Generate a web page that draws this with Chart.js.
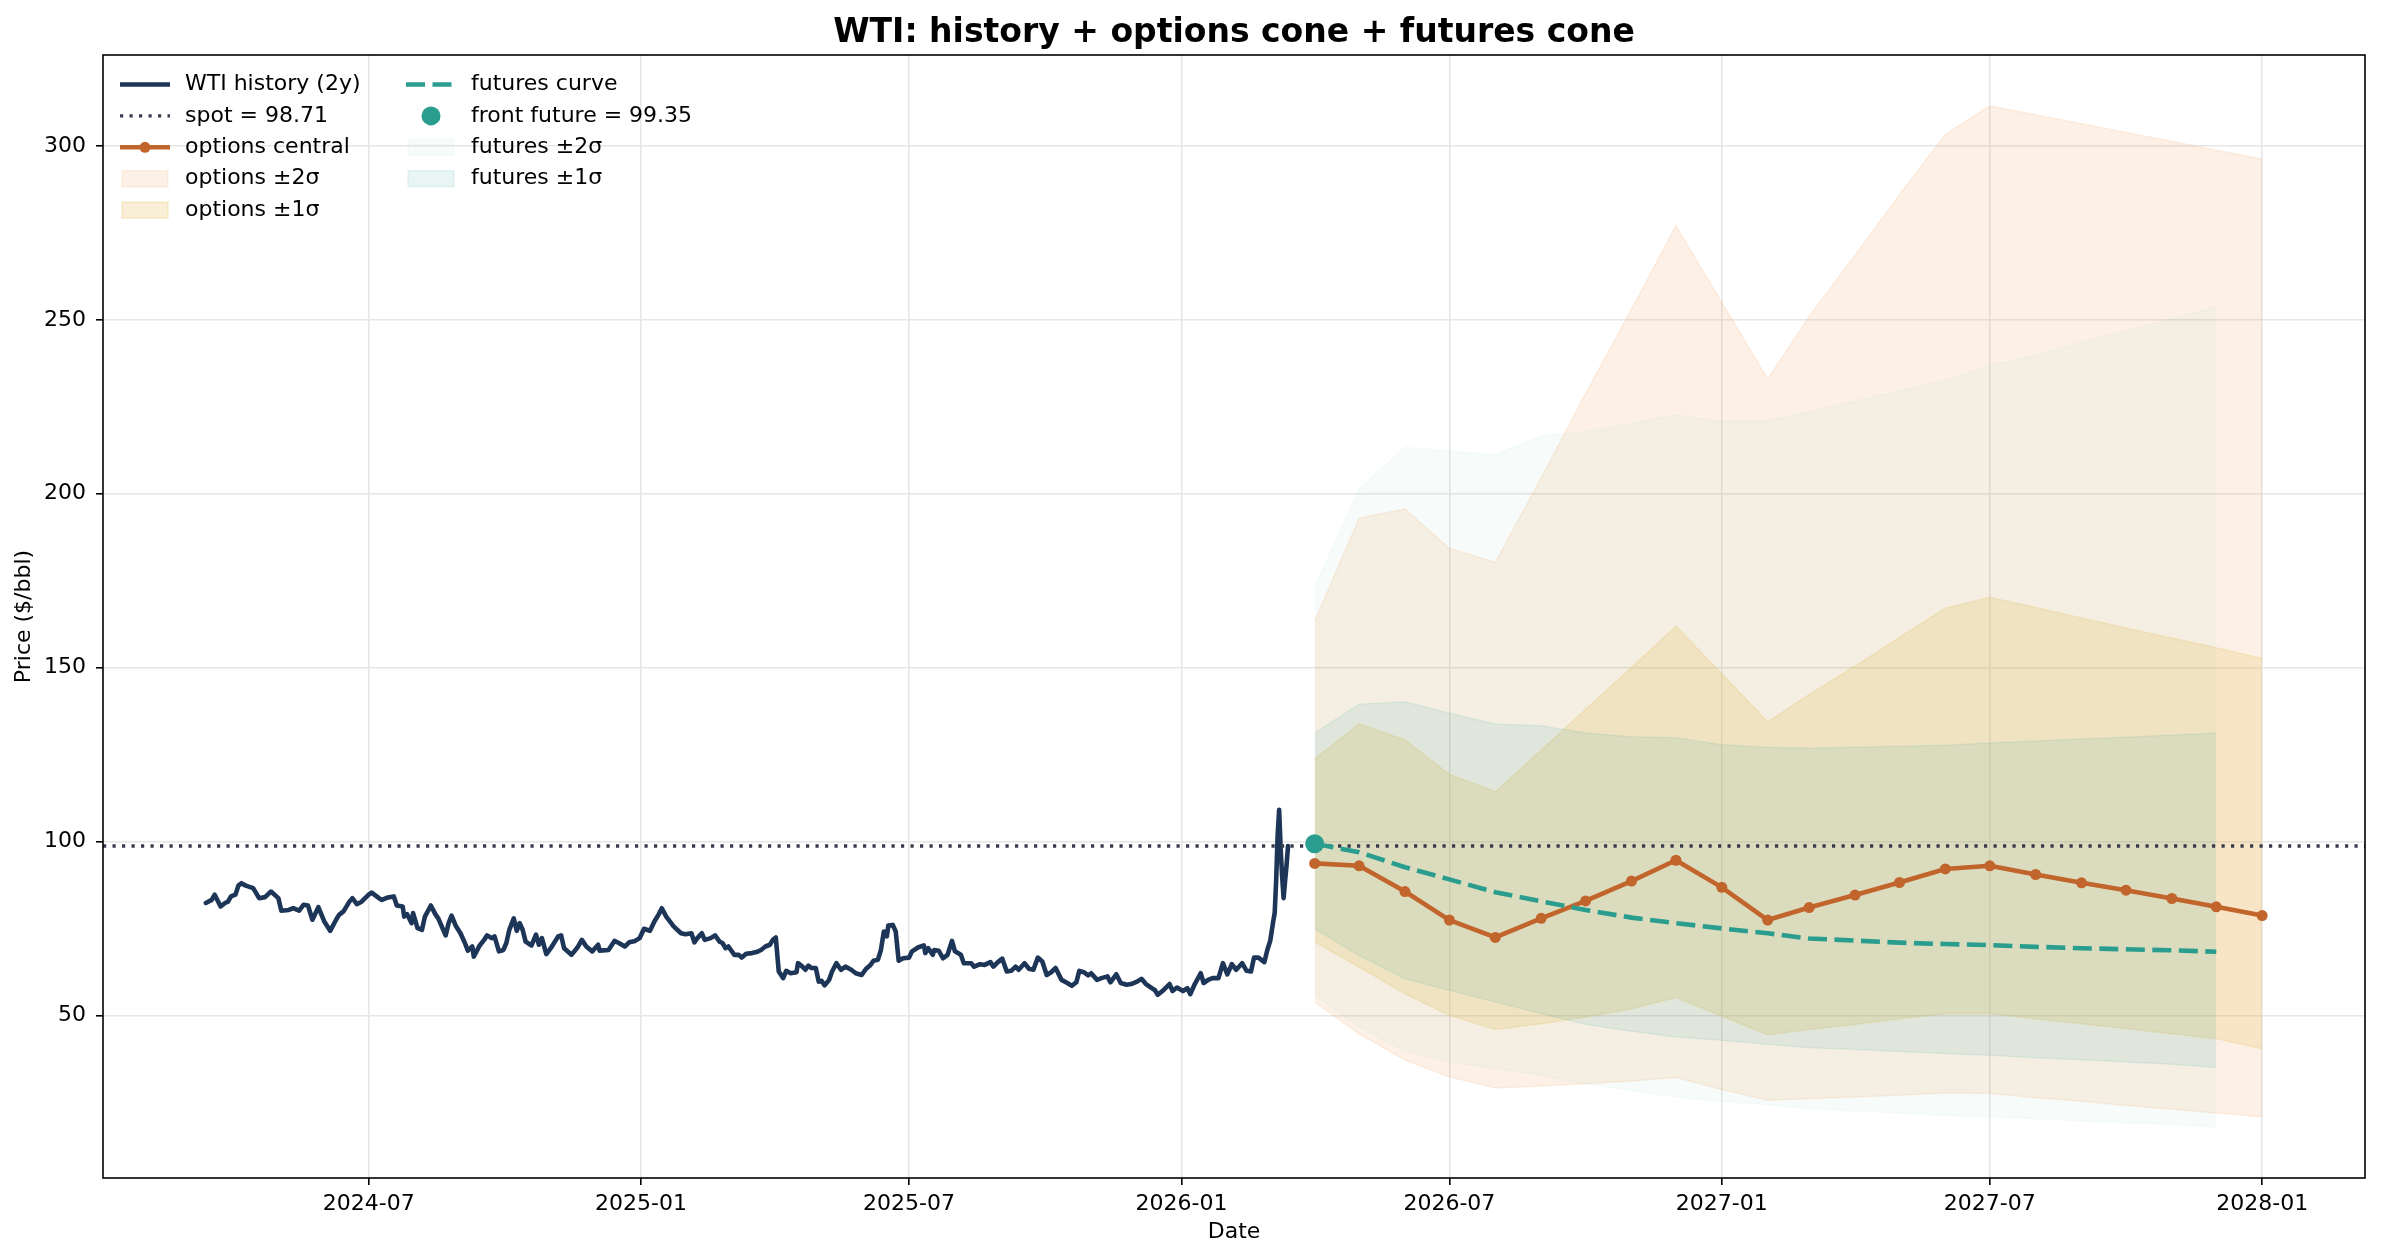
<!DOCTYPE html>
<html>
<head>
<meta charset="utf-8">
<script src="https://cdn.jsdelivr.net/npm/chart.js@4.4.1/dist/chart.umd.min.js"></script>
<style>
  html, body { margin: 0; padding: 0; background: #fff; }
  canvas { display: block; }
</style>
</head>
<body>
<canvas id="wtiChart" width="2382" height="1259" style="width:2382px;height:1259px"></canvas>
<script>
// Historia WTI: dias desde histStart y precio ($/bbl)
const histStart = '2024-03-13';
const histDay = [
    0, 4, 6, 10, 13, 15, 17, 20, 22, 24, 27, 32, 36, 40, 44, 49, 51, 56, 59, 63,
    66, 69, 72, 76, 80, 84, 88, 90, 93, 97, 99, 102, 105, 110, 112, 117, 119, 123, 127, 129,
    133, 134, 136, 139, 140, 143, 146, 148, 152, 155, 157, 162, 164, 166, 169, 172, 175, 177, 180, 181,
    185, 188, 190, 193, 195, 198, 201, 203, 205, 208, 210, 212, 214, 216, 220, 223, 225, 227, 230, 233,
    238, 240, 242, 247, 251, 254, 257, 261, 265, 266, 272, 276, 279, 283, 286, 290, 293, 296, 300, 303,
    306, 308, 311, 316, 321, 324, 328, 330, 332, 335, 337, 341, 344, 347, 349, 351, 353, 357, 360, 362,
    365, 369, 372, 375, 378, 381, 383, 385, 387, 390, 392, 395, 399, 400, 403, 405, 407, 409, 412, 414,
    416, 418, 421, 423, 426, 429, 432, 436, 439, 443, 446, 449, 451, 454, 456, 458, 460, 461, 464, 466,
    468, 471, 475, 477, 481, 485, 486, 488, 491, 492, 495, 498, 501, 504, 506, 510, 512, 517, 519, 523,
    526, 530, 532, 535, 538, 541, 544, 547, 549, 553, 556, 559, 562, 565, 568, 571, 574, 578, 581, 585,
    588, 590, 593, 596, 598, 602, 605, 609, 611, 615, 618, 622, 625, 629, 632, 635, 639, 641, 643, 647,
    651, 653, 656, 660, 663, 665, 668, 672, 674, 677, 680, 684, 687, 690, 693, 696, 700, 703, 706, 708,
    711, 715, 717, 719, 721, 722, 723, 724, 725, 726, 727, 728, 729, 730, 731
];
const histPrice = [
    82.3, 83.2, 84.7, 81.3, 82.3, 82.7, 84.2, 84.7, 87.3, 88.0, 87.3, 86.6, 83.7, 84.0, 85.6, 83.7, 80.1, 80.3, 80.8, 80.1,
    81.8, 81.6, 77.5, 81.1, 77.0, 74.3, 77.5, 78.9, 79.9, 82.7, 83.7, 82.0, 82.6, 84.7, 85.3, 83.7, 83.2, 83.9, 84.2, 81.6,
    81.3, 78.4, 79.1, 76.5, 79.4, 75.1, 74.6, 78.4, 81.6, 79.1, 77.9, 73.0, 76.5, 78.7, 75.6, 73.6, 70.8, 68.6, 69.8, 66.9,
    70.1, 71.7, 73.0, 72.2, 72.7, 68.4, 68.8, 70.8, 74.6, 77.9, 74.3, 76.5, 74.6, 71.2, 70.1, 73.2, 70.3, 72.2, 67.6, 69.3,
    72.7, 73.0, 69.3, 67.4, 69.5, 71.7, 69.8, 68.4, 70.3, 68.6, 68.8, 71.4, 70.8, 69.8, 71.0, 71.4, 72.2, 74.9, 74.3, 77.0,
    79.1, 80.8, 78.4, 75.6, 73.6, 73.3, 73.6, 71.0, 72.2, 73.6, 71.7, 72.2, 73.0, 71.2, 70.8, 69.3, 69.8, 67.4, 67.4, 66.6,
    67.7, 67.9, 68.2, 68.8, 69.8, 70.3, 71.7, 72.4, 62.6, 60.7, 62.8, 62.1, 62.4, 65.0, 64.0, 63.1, 64.3, 63.6, 63.6, 59.7,
    59.9, 58.6, 60.2, 62.6, 65.0, 63.1, 64.0, 63.1, 62.1, 61.6, 63.4, 64.5, 65.7, 66.0, 68.8, 74.1, 72.7, 75.8, 76.0, 74.1,
    65.7, 66.4, 66.6, 68.4, 69.5, 70.1, 67.9, 69.3, 67.4, 68.8, 68.6, 66.4, 67.4, 71.4, 68.4, 67.4, 65.0, 65.0, 64.0, 64.7,
    64.5, 65.3, 64.0, 65.3, 66.3, 62.6, 62.8, 64.0, 63.1, 65.0, 63.4, 63.1, 66.6, 65.5, 61.6, 62.4, 63.6, 60.2, 59.5, 58.5,
    59.5, 62.8, 62.4, 61.5, 62.1, 60.2, 60.7, 61.2, 59.5, 61.8, 59.3, 58.8, 59.0, 59.7, 60.5, 59.0, 57.8, 57.3, 55.9, 57.3,
    59.0, 57.0, 58.0, 57.0, 57.8, 56.1, 59.0, 62.1, 59.3, 60.2, 60.7, 60.7, 65.0, 61.8, 64.7, 63.1, 65.0, 62.8, 62.6, 66.6,
    66.6, 65.3, 68.8, 71.5, 77.0, 79.5, 89.0, 102.0, 109.1, 98.0, 90.0, 83.7, 88.6, 93.2, 98.71
];

const spot = 98.71;
const frontFuture = 99.35;

// Cono de opciones (mensual)
const optDates = [
    '2026-04-01', '2026-05-01', '2026-06-01', '2026-07-01', '2026-08-01', '2026-09-01',
    '2026-10-01', '2026-11-01', '2026-12-01', '2027-01-01', '2027-02-01', '2027-03-01',
    '2027-04-01', '2027-05-01', '2027-06-01', '2027-07-01', '2027-08-01', '2027-09-01',
    '2027-10-01', '2027-11-01', '2027-12-01', '2028-01-01'
];
const optCentral = [93.7, 93.0, 85.6, 77.4, 72.4, 77.9, 82.9, 88.6, 94.6, 86.8, 77.4, 81.0, 84.6, 88.2, 92.1, 93.0, 90.5, 88.1, 86.0, 83.6, 81.2, 78.7];
const opt1Up = [123.7, 133.8, 129.2, 119.3, 114.3, 126.2, 138.0, 150.0, 161.9, 148.2, 134.4, 142.3, 150.4, 158.7, 167.1, 170.2, 167.3, 164.3, 161.4, 158.5, 155.7, 152.6];
const opt1Lo = [71.1, 63.9, 56.2, 50.0, 45.9, 47.6, 49.5, 51.9, 55.1, 49.8, 44.4, 45.9, 47.4, 49.0, 50.5, 50.5, 49.0, 47.6, 46.2, 44.7, 43.3, 40.4];
const opt2Up = [163.3, 193.0, 195.6, 184.3, 180.3, 204.6, 228.8, 253.1, 277.1, 255.0, 233.0, 251.0, 268.6, 286.0, 303.4, 311.5, 309.0, 306.4, 303.9, 301.4, 298.8, 296.3];
const opt2Lo = [53.8, 44.7, 37.1, 32.3, 29.1, 29.7, 30.3, 31.1, 32.1, 28.7, 25.6, 26.0, 26.5, 27.0, 27.7, 27.5, 26.3, 25.3, 24.1, 23.0, 21.9, 20.8];

// Cono de futuros (mensual)
const futDates = [
    '2026-04-01', '2026-05-01', '2026-06-01', '2026-07-01', '2026-08-01', '2026-09-01',
    '2026-10-01', '2026-11-01', '2026-12-01', '2027-01-01', '2027-02-01', '2027-03-01',
    '2027-04-01', '2027-05-01', '2027-06-01', '2027-07-01', '2027-08-01', '2027-09-01',
    '2027-10-01', '2027-11-01', '2027-12-01'
];
const futCurve = [99.35, 96.9, 92.6, 89.1, 85.4, 82.8, 80.3, 78.1, 76.5, 75.0, 73.6, 72.1, 71.5, 70.9, 70.5, 70.2, 69.7, 69.3, 69.0, 68.7, 68.3];
const fut1Up = [131.2, 139.5, 140.2, 136.9, 133.8, 133.3, 131.2, 130.1, 129.8, 127.8, 127.1, 126.8, 127.1, 127.4, 127.7, 128.3, 128.9, 129.5, 130.0, 130.6, 131.2];
const fut1Lo = [74.9, 67.2, 60.5, 57.2, 53.8, 50.5, 47.4, 45.4, 43.8, 42.8, 41.7, 40.7, 40.2, 39.6, 39.0, 38.5, 37.8, 37.2, 36.6, 35.9, 35.0];
const fut2Up = [173.1, 201.4, 213.4, 212.2, 211.2, 216.6, 217.9, 220.2, 222.7, 220.8, 221.1, 223.5, 226.6, 229.7, 232.6, 236.9, 240.0, 243.5, 246.8, 250.3, 253.8];
const fut2Lo = [55.8, 46.6, 39.9, 36.6, 34.7, 32.7, 30.3, 28.4, 26.5, 25.3, 24.3, 23.2, 22.5, 21.9, 21.2, 20.8, 20.3, 19.6, 19.1, 18.6, 17.9];

// Ejes
const yTicks = [50, 100, 150, 200, 250, 300];
const xTicks = ['2024-07-01', '2025-01-01', '2025-07-01', '2026-01-01', '2026-07-01', '2027-01-01', '2027-07-01', '2028-01-01'];
const chartTitle = 'WTI: history + options cone + futures cone';

const DAY = 86400000;
const ms = s => Date.parse(s);
const pts = (dates, vals) => dates.map((d, i) => ({ x: ms(d), y: vals[i] }));
const histPts = histDay.map((d, i) => ({ x: ms(histStart) + d * DAY, y: histPrice[i] }));

// Limites con margen del 5% como matplotlib
const allY = [...histPrice, ...opt2Up, ...opt2Lo, ...fut2Up, ...fut2Lo];
const yLo = Math.min(...allY), yHi = Math.max(...allY);
const yPad = 0.05 * (yHi - yLo);
const xLo = ms(histStart), xHi = ms(optDates[optDates.length - 1]);
const xPad = 0.05 * (xHi - xLo);

const NAVY = '#1d3557';
const ORANGE = '#c1652c';
const TEAL = '#2a9d8f';

function band(label, dates, up, lo, rgb, alpha, order) {
    const col = `rgba(${rgb},${alpha})`;
    return [
        { label: label, data: pts(dates, up), fill: '+1', backgroundColor: col, borderColor: col,
          borderWidth: 1.5, pointRadius: 0, order: order },
        { label: label + ' lo', data: pts(dates, lo), fill: false, borderColor: col,
          borderWidth: 1.5, pointRadius: 0, order: order }
    ];
}

const histDs = { label: 'WTI history (2y)', data: histPts, borderColor: NAVY, borderWidth: 4.6,
    pointRadius: 0, borderJoinStyle: 'round', borderCapStyle: 'round', order: 5 };
const spotDs = { label: 'spot = ' + spot.toFixed(2), data: [{ x: xLo - xPad, y: spot }, { x: xHi + xPad, y: spot }],
    borderColor: '#383b4c', borderWidth: 3.4, borderDash: [3.2, 6.3], pointRadius: 0, order: 4 };
const centralDs = { label: 'options central', data: pts(optDates, optCentral), borderColor: ORANGE,
    backgroundColor: ORANGE, borderWidth: 4.6, pointRadius: 5.5, pointBorderWidth: 0,
    pointBackgroundColor: ORANGE, borderJoinStyle: 'round', order: 3 };
const futDs = { label: 'futures curve', data: pts(futDates, futCurve), borderColor: TEAL, borderWidth: 4.6,
    borderDash: [19, 7.5], pointRadius: 0, order: 2 };
const frontDs = { label: 'front future = ' + frontFuture.toFixed(2), data: [{ x: ms(futDates[0]), y: frontFuture }],
    showLine: false, pointRadius: 9.5, pointBorderWidth: 0, pointBackgroundColor: TEAL,
    backgroundColor: TEAL, borderColor: TEAL, order: 1 };

const opt2 = band('options ±2σ', optDates, opt2Up, opt2Lo, '244,162,97', 0.15, 9);
const opt1 = band('options ±1σ', optDates, opt1Up, opt1Lo, '233,196,106', 0.28, 8);
const fut2 = band('futures ±2σ', futDates, fut2Up, fut2Lo, '60,170,120', 0.04, 7);
const fut1 = band('futures ±1σ', futDates, fut1Up, fut1Lo, '42,157,143', 0.10, 6);

// Leyenda en dos columnas (orden por columnas, como matplotlib)
const legendCols = [
    [{ ds: histDs, kind: 'line' }, { ds: spotDs, kind: 'line' }, { ds: centralDs, kind: 'lineMarker' },
     { ds: opt2[0], kind: 'patch' }, { ds: opt1[0], kind: 'patch' }],
    [{ ds: futDs, kind: 'line' }, { ds: frontDs, kind: 'marker' },
     { ds: fut2[0], kind: 'patch' }, { ds: fut1[0], kind: 'patch' }]
];

const frameLegend = {
    id: 'frameLegend',
    afterDraw(chart) {
        const { ctx, chartArea: a } = chart;
        ctx.save();
        // titulo centrado sobre el area de ejes
        ctx.font = 'bold 33px "DejaVu Sans"';
        ctx.fillStyle = '#000';
        ctx.textAlign = 'center';
        ctx.textBaseline = 'middle';
        ctx.fillText(chartTitle, (a.left + a.right) / 2, 33);

        ctx.strokeStyle = '#000';
        ctx.lineWidth = 1.6;
        ctx.setLineDash([]);
        ctx.strokeRect(a.left, a.top, a.right - a.left, a.bottom - a.top);

        const colX = [a.left + 19, a.left + 305];
        const handleW = 46;
        ctx.font = '22px "DejaVu Sans"';
        ctx.textAlign = 'left';
        legendCols.forEach((col, c) => {
            col.forEach((item, r) => {
                const x = colX[c];
                const y = a.top + 29.5 + r * 31.4;
                const ds = item.ds;
                if (item.kind === 'line' || item.kind === 'lineMarker') {
                    ctx.beginPath();
                    ctx.setLineDash(ds.borderDash || []);
                    ctx.lineWidth = ds.borderWidth;
                    ctx.strokeStyle = ds.borderColor;
                    ctx.moveTo(x - 2, y);
                    ctx.lineTo(x + handleW + 2, y);
                    ctx.stroke();
                    ctx.setLineDash([]);
                }
                if (item.kind === 'lineMarker' || item.kind === 'marker') {
                    ctx.beginPath();
                    ctx.fillStyle = ds.pointBackgroundColor;
                    ctx.arc(x + handleW / 2, y, item.kind === 'marker' ? 9.5 : ds.pointRadius, 0, Math.PI * 2);
                    ctx.fill();
                }
                if (item.kind === 'patch') {
                    ctx.fillStyle = ds.backgroundColor;
                    ctx.fillRect(x, y - 8, handleW, 16);
                    ctx.lineWidth = 1.5;
                    ctx.strokeStyle = ds.borderColor;
                    ctx.strokeRect(x, y - 8, handleW, 16);
                }
                ctx.fillStyle = '#000';
                ctx.fillText(ds.label, x + handleW + 17, y);
            });
        });
        ctx.restore();
    }
};

Chart.defaults.font.family = '"DejaVu Sans", sans-serif';
Chart.defaults.color = '#000';

const gridOpts = {
    color: '#e6e6e6',
    lineWidth: 1.6,
    drawTicks: true,
    tickLength: 7,
    tickColor: '#000',
    tickWidth: 1.6
};

new Chart(document.getElementById('wtiChart'), {
    type: 'line',
    data: {
        datasets: [...opt2, ...opt1, ...fut2, ...fut1, histDs, spotDs, centralDs, futDs, frontDs]
    },
    options: {
        responsive: false,
        devicePixelRatio: 1,
        animation: false,
        events: [],
        elements: { line: { tension: 0 } },
        layout: { padding: { left: 0, right: 17, top: 55, bottom: 0 } },
        plugins: {
            legend: { display: false },
            tooltip: { enabled: false },
            title: { display: false }
        },
        scales: {
            x: {
                type: 'linear',
                min: xLo - xPad,
                max: xHi + xPad,
                afterBuildTicks: s => { s.ticks = xTicks.map(t => ({ value: ms(t) })); },
                afterFit: s => { s.height = 81; },
                ticks: {
                    autoSkip: false,
                    maxRotation: 0,
                    padding: 6,
                    font: { size: 22 },
                    callback: v => new Date(v).toISOString().slice(0, 7)
                },
                grid: gridOpts,
                border: { display: false },
                title: { display: true, text: 'Date', font: { size: 22 }, padding: { bottom: 14 } }
            },
            y: {
                type: 'linear',
                min: yLo - yPad,
                max: yHi + yPad,
                afterBuildTicks: s => { s.ticks = yTicks.map(v => ({ value: v })); },
                afterFit: s => { s.width = 103; },
                ticks: {
                    padding: 10,
                    font: { size: 22 },
                    callback: v => String(v)
                },
                grid: gridOpts,
                border: { display: false },
                title: { display: true, text: 'Price ($/bbl)', font: { size: 22 }, padding: { top: 11 } }
            }
        }
    },
    plugins: [frameLegend]
});
</script>
</body>
</html>
